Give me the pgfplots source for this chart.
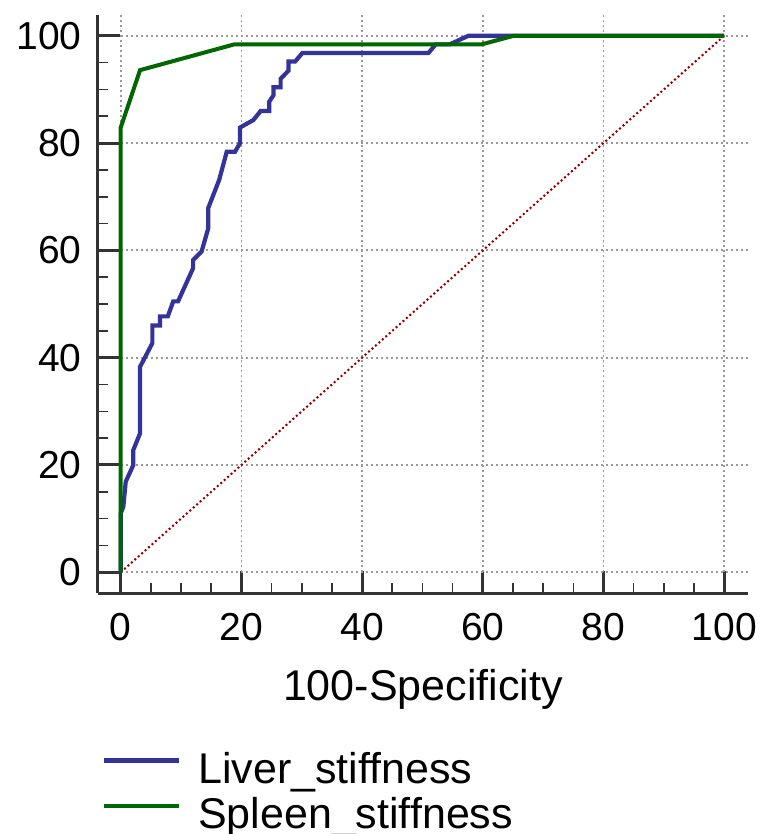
\documentclass[border=0pt]{standalone}
\usepackage{fontspec}
\setmainfont{Liberation Sans}
\usepackage{pgfplots}
\pgfplotsset{compat=1.18}
\definecolor{liverblue}{HTML}{333399}
\definecolor{spleengreen}{HTML}{006600}
\definecolor{refred}{HTML}{8B0000}
\definecolor{axisgray}{HTML}{333333}
\definecolor{gridgray}{HTML}{999999}

\begin{document}
\begin{tikzpicture}
% page frame, same proportions as the reference
\useasboundingbox (-48.75pt,-120.35pt) rectangle (332.75pt,296.65pt);
\begin{axis}[
  scale only axis, width=325.4pt, height=289.2pt,
  xmin=-3.85, xmax=104.0, ymin=-3.92, ymax=103.9,
  axis lines=left,
  axis line style={-, line width=1.5pt, axisgray},
  xtick={0,20,...,100}, ytick={0,20,...,100},
  minor tick num=3,
  tick align=inside,
  major tick length=11pt, minor tick length=5pt,
  tick style={axisgray},
  major tick style={line width=1.5pt},
  minor tick style={line width=0.8pt},
  ticklabel style={font=\fontsize{19.5}{23}\selectfont},
  /pgf/number format/assume math mode=true,
  xticklabel style={anchor=base, yshift=-23.35pt, inner sep=0pt},
  yticklabel style={anchor=east, xshift=-7.75pt, inner sep=0pt},
  xlabel={100-Specificity},
  xlabel style={at={(axis description cs:0.5,0)}, anchor=base, yshift=-53.35pt,
    font=\fontsize{21.5}{25}\selectfont},
  legend style={at={(axis description cs:0,0)}, anchor=north west,
    xshift=2.1pt, yshift=-78.85pt, draw=none, fill=none,
    inner sep=0pt, outer sep=0pt,
    font=\fontsize{21.5}{25}\selectfont,
    nodes={inner sep=0pt, text height=16pt, text depth=6.5pt},
    /tikz/column sep=8.65pt},
  legend cell align=left,
  legend image code/.code={\draw[#1] (0pt,6.5pt) -- (37.5pt,6.5pt);},
]
% dotted grid from 0 to the far edge
\pgfplotsinvokeforeach{0,20,40,60,80,100}{
  \draw[gridgray, line width=0.9pt, dash pattern=on 0.9pt off 1.6pt]
    (axis cs:#1,0) -- (axis cs:#1,103.9);
  \draw[gridgray, line width=0.9pt, dash pattern=on 0.9pt off 1.6pt]
    (axis cs:0,#1) -- (axis cs:104,#1);
}

\addplot[refred, line width=1pt, dash pattern=on 1pt off 1.3pt, forget plot]
  coordinates {(0,0) (100,100)};

\addplot[liverblue, line width=2.1pt] coordinates {
  (0,0) (0,11) (0.43,12.2) (0.83,16.9) (2.09,20.0) (2.09,22.8) (3.2,25.9)
  (3.2,38.3) (5.24,42.7) (5.24,46.0) (6.5,46.0) (6.5,47.7) (7.8,47.7)
  (8.7,50.5) (9.5,50.5) (12.0,56.7) (12.0,58.2) (13.4,59.8) (14.5,64.1)
  (14.5,67.9) (16.3,73.1) (17.57,78.4) (18.95,78.4) (19.77,80.0) (19.77,82.9)
  (21.98,84.3) (23.2,86.0) (24.6,86.0) (24.6,87.7) (25.3,88.9) (25.3,90.4)
  (26.5,90.4) (26.5,92.0) (27.8,93.5) (27.8,95.2) (28.9,95.2) (30.1,96.8)
  (51.0,96.8) (52.2,98.4) (54.5,98.4) (57.6,100) (100,100)
};
\addlegendentry{Liver\_stiffness}

\addplot[spleengreen, line width=2pt] coordinates {
  (0,0) (0,82.9) (3.2,93.6) (18.8,98.4) (59.8,98.4) (65.1,100) (100,100)
};
\addlegendentry{Spleen\_stiffness}
\end{axis}
\end{tikzpicture}
\end{document}
